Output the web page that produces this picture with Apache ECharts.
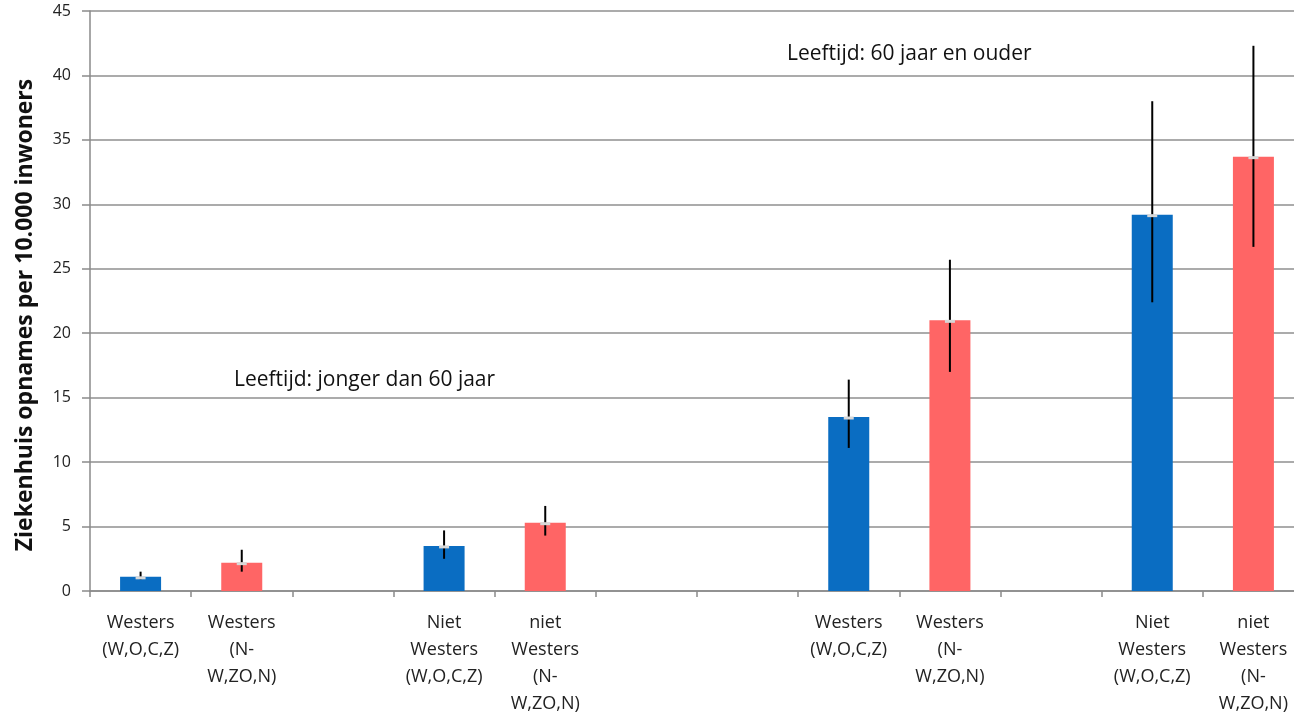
<!DOCTYPE html>
<html>
<head>
<meta charset="utf-8">
<style>
  html, body { margin: 0; padding: 0; background: #fff; }
  #chart { width: 1294px; height: 714px; }
</style>
<script src="https://cdn.jsdelivr.net/npm/echarts@6/dist/echarts.min.js"></script>
</head>
<body>
<div id="chart"></div>
<script>
// categories (empty slots are spacers between the groups)
const categories = [
  'Westers\n(W,O,C,Z)', 'Westers\n(N-\nW,ZO,N)', '',
  'Niet\nWesters\n(W,O,C,Z)', 'niet\nWesters\n(N-\nW,ZO,N)', '', '',
  'Westers\n(W,O,C,Z)', 'Westers\n(N-\nW,ZO,N)', '',
  'Niet\nWesters\n(W,O,C,Z)', 'niet\nWesters\n(N-\nW,ZO,N)'
];
const values  = [1.1, 2.2, null, 3.5, 5.3, null, null, 13.5, 21.0, null, 29.2, 33.7];
const errLow  = [0.9, 1.5, null, 2.5, 4.3, null, null, 11.1, 17.0, null, 22.4, 26.7];
const errHigh = [1.5, 3.2, null, 4.7, 6.6, null, null, 16.4, 25.7, null, 38.0, 42.3];
const yTicks = [0, 5, 10, 15, 20, 25, 30, 35, 40, 45];

const BLUE = '#0a6dc2';
const RED = '#ff6565';
const font = '"Open Sans", Lato, sans-serif';

const chart = echarts.init(document.getElementById('chart'));

const errData = values.map((v, i) => v == null ? null : [i, errLow[i], errHigh[i], v]).filter(Boolean);

chart.setOption({
  animation: false,
  // plot runs a little past the right edge of the picture, like the original
  grid: { left: 90, top: 11, width: 1214, height: 580, containLabel: false, outerBoundsMode: 'none' },
  xAxis: {
    type: 'category',
    data: categories,
    axisLine: { lineStyle: { color: '#8a8a8a', width: 1.5 } },
    axisTick: { show: true, length: 6, lineStyle: { color: '#8a8a8a', width: 1.5 } },
    axisLabel: {
      interval: 0, margin: 18, color: '#222', fontSize: 18, lineHeight: 27,
      fontFamily: font, align: 'center'
    }
  },
  yAxis: {
    type: 'value',
    min: yTicks[0], max: yTicks[yTicks.length - 1], interval: 5,
    name: 'Ziekenhuis opnames per 10.000 inwoners',
    nameLocation: 'middle',
    nameGap: 53,
    nameTextStyle: {
      fontSize: 23, fontWeight: 'bold', color: '#111', fontFamily: font,
      padding: [0, 28, 0, 0]
    },
    axisLine: { show: true, lineStyle: { color: '#8a8a8a', width: 1.5 } },
    axisTick: { show: true, length: 8, lineStyle: { color: '#8a8a8a', width: 1.5 } },
    axisLabel: { color: '#222', fontSize: 16, margin: 19, fontFamily: font },
    splitLine: { lineStyle: { color: '#8f8f8f', width: 1.5 } }
  },
  series: [
    {
      type: 'bar',
      data: values,
      barWidth: 41,
      itemStyle: {
        color: p => categories[p.dataIndex].indexOf('(W,O,C,Z)') >= 0 ? BLUE : RED
      }
    },
    {
      type: 'custom',
      data: errData,
      z: 10,
      renderItem: (params, api) => {
        const x = api.value(0);
        const lo = api.coord([x, api.value(1)]);
        const hi = api.coord([x, api.value(2)]);
        const mid = api.coord([x, api.value(3)]);
        return {
          type: 'group',
          children: [
            { type: 'line', shape: { x1: lo[0], y1: lo[1], x2: hi[0], y2: hi[1] },
              style: { stroke: '#000', lineWidth: 2 } },
            { type: 'line', shape: { x1: mid[0] - 5, y1: mid[1] + 1, x2: mid[0] + 5, y2: mid[1] + 1 },
              style: { stroke: '#d8d8d8', lineWidth: 3 } }
          ]
        };
      }
    }
  ],
  graphic: [
    { type: 'text', left: 234, top: 370,
      style: { text: 'Leeftijd: jonger dan 60 jaar', fontSize: 21, fill: '#111', fontFamily: font } },
    { type: 'text', left: 787, top: 44,
      style: { text: 'Leeftijd: 60 jaar en ouder', fontSize: 21, fill: '#111', fontFamily: font } }
  ]
});
</script>
</body>
</html>
